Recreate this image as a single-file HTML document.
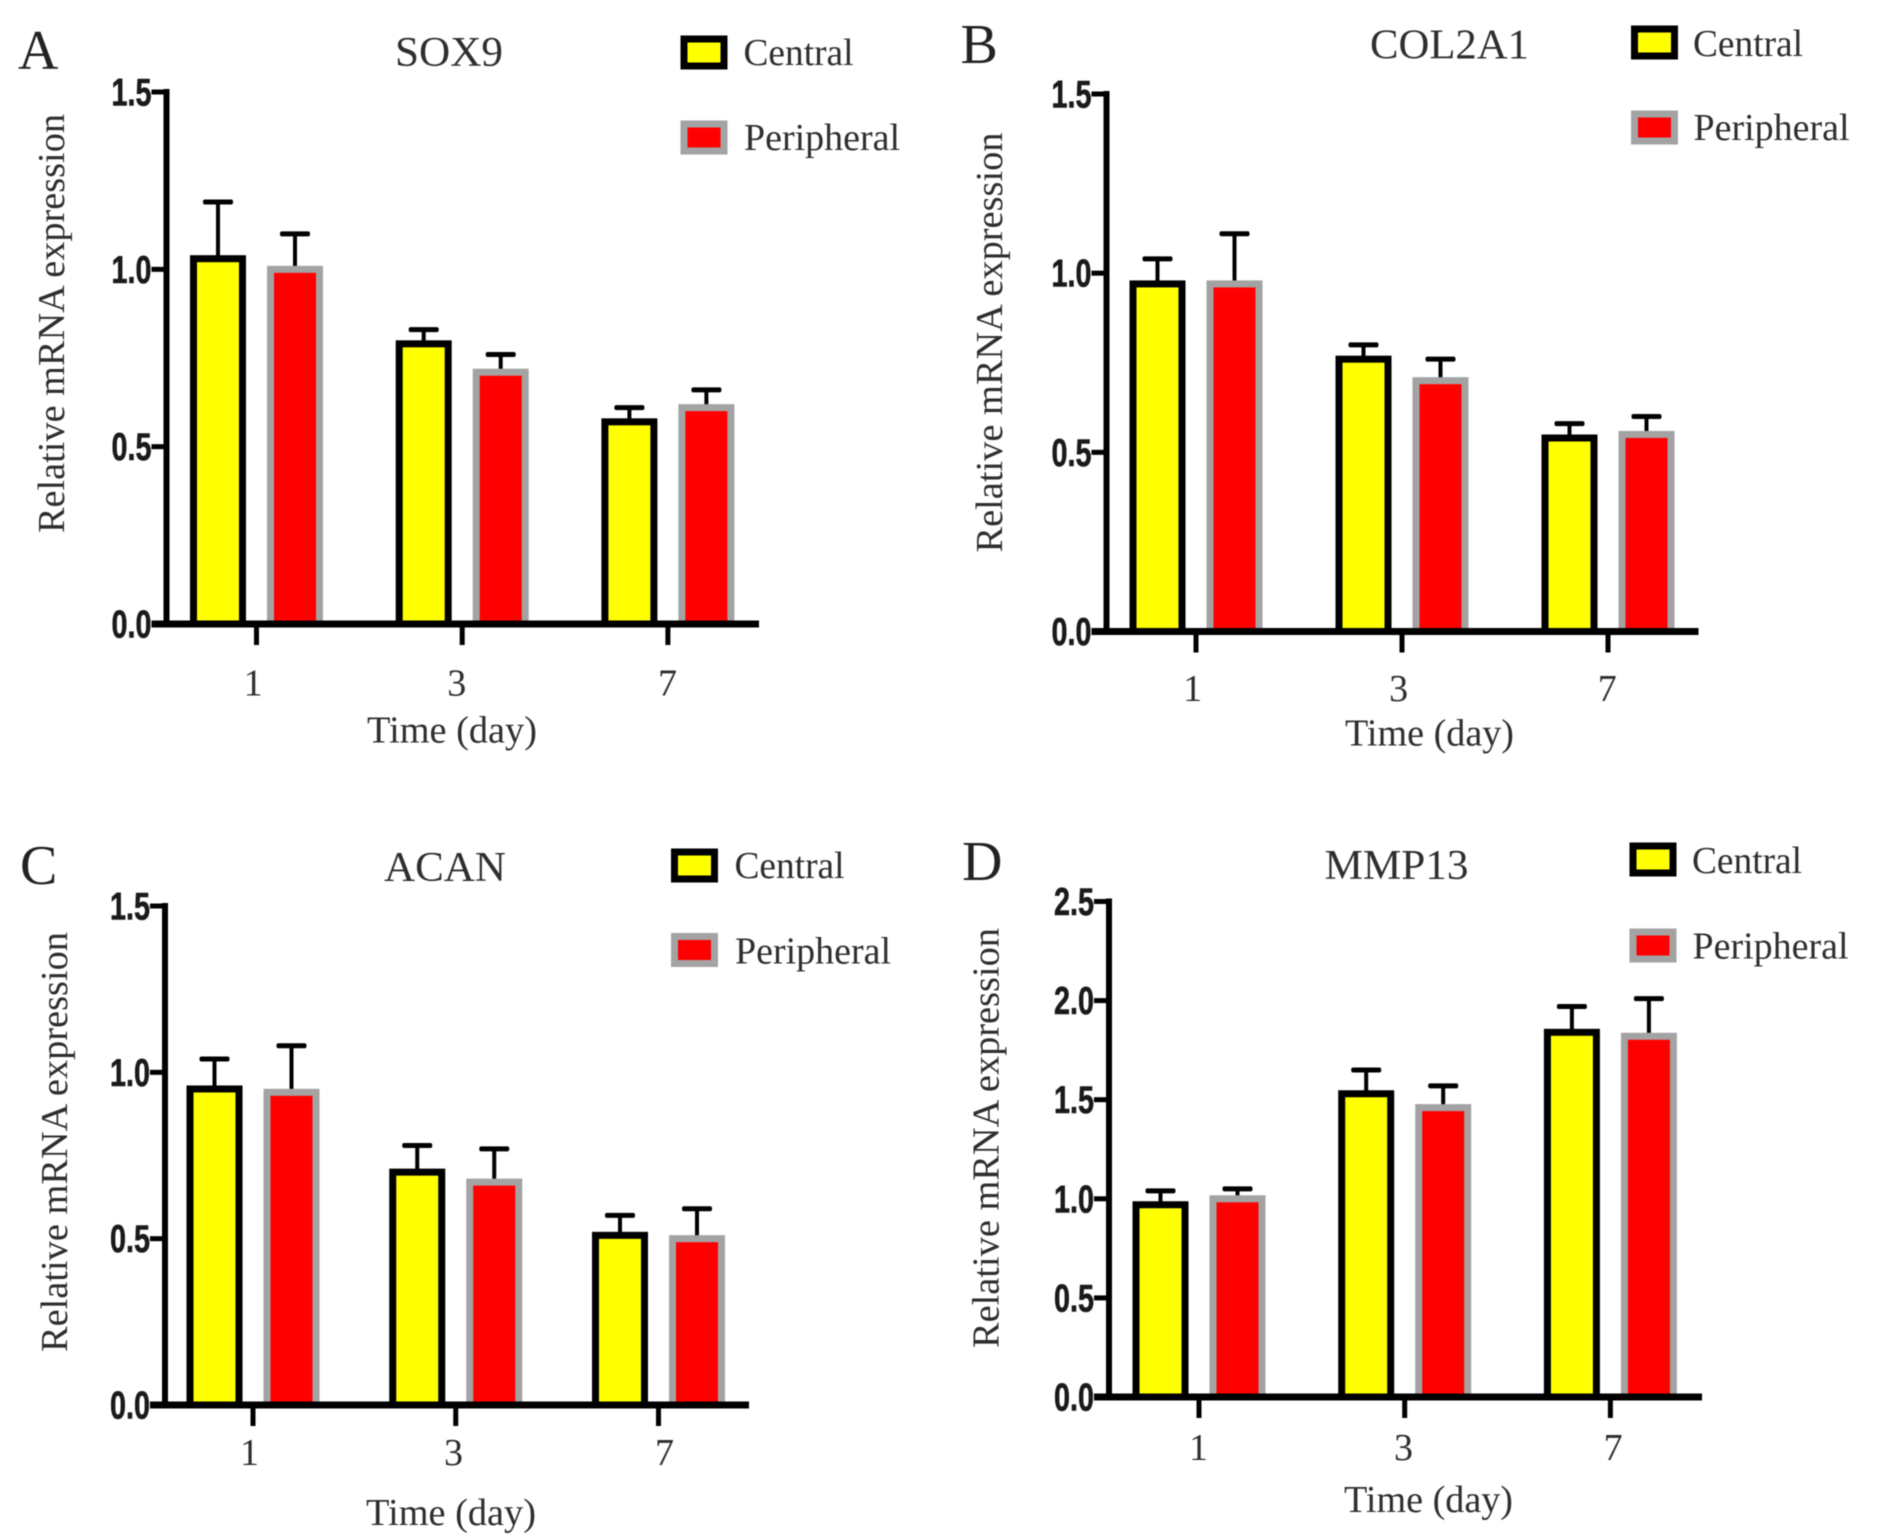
<!DOCTYPE html>
<html lang="en">
<head>
<meta charset="utf-8">
<title>Relative mRNA expression panels</title>
<style>
html,body{margin:0;padding:0;background:#fff;width:1890px;height:1540px;overflow:hidden}
svg{display:block;filter:blur(.5px)}
.lab{font-family:"Liberation Serif",serif;fill:#2e2e2e;font-size:38px}
.panel{font-family:"Liberation Serif",serif;fill:#222;font-size:56px}
.tick{font-family:"Liberation Sans",sans-serif;font-weight:bold;fill:#1a1a1a;stroke:#1a1a1a;stroke-width:.6px;font-size:39px}
</style>
</head>
<body>
<svg id="figure" xmlns="http://www.w3.org/2000/svg" width="1890" height="1540" viewBox="0 0 1890 1540">
<rect width="1890" height="1540" fill="#fff"/>

<g id="panel-a">
<text class="panel" x="18" y="69">A</text>
<text class="lab" x="395" y="66" style="font-size:42px" textLength="108" lengthAdjust="spacingAndGlyphs">SOX9</text>
<text class="lab" transform="translate(64,533) rotate(-90)" textLength="419" lengthAdjust="spacingAndGlyphs">Relative mRNA expression</text>
<text class="lab" x="367" y="742.5" textLength="170" lengthAdjust="spacingAndGlyphs">Time (day)</text>
<rect x="684" y="39" width="40" height="27" fill="#ff0" stroke="#000" stroke-width="7"/>
<text class="lab" x="743.5" y="65" textLength="110" lengthAdjust="spacingAndGlyphs">Central</text>
<rect x="684" y="124" width="40" height="27" fill="#f00" stroke="#a3a3a3" stroke-width="7"/>
<text class="lab" x="744" y="150" textLength="156" lengthAdjust="spacingAndGlyphs">Peripheral</text>
</g>

<g id="panel-b">
<text class="panel" x="960.5" y="63">B</text>
<text class="lab" x="1370" y="58.5" style="font-size:42px" textLength="159" lengthAdjust="spacingAndGlyphs">COL2A1</text>
<text class="lab" transform="translate(1002,552.5) rotate(-90)" textLength="420" lengthAdjust="spacingAndGlyphs">Relative mRNA expression</text>
<text class="lab" x="1345" y="745.5" textLength="169" lengthAdjust="spacingAndGlyphs">Time (day)</text>
<rect x="1634.5" y="29" width="40" height="27" fill="#ff0" stroke="#000" stroke-width="7"/>
<text class="lab" x="1693" y="56" textLength="110" lengthAdjust="spacingAndGlyphs">Central</text>
<rect x="1634.5" y="114" width="40" height="27" fill="#f00" stroke="#a3a3a3" stroke-width="7"/>
<text class="lab" x="1693.5" y="140" textLength="156" lengthAdjust="spacingAndGlyphs">Peripheral</text>
</g>

<g id="panel-c">
<text class="panel" x="20" y="884">C</text>
<text class="lab" x="384" y="881" style="font-size:42px" textLength="122" lengthAdjust="spacingAndGlyphs">ACAN</text>
<text class="lab" transform="translate(67,1352) rotate(-90)" textLength="420" lengthAdjust="spacingAndGlyphs">Relative mRNA expression</text>
<text class="lab" x="366" y="1525" textLength="170" lengthAdjust="spacingAndGlyphs">Time (day)</text>
<rect x="674.5" y="852" width="40" height="27" fill="#ff0" stroke="#000" stroke-width="7"/>
<text class="lab" x="734.5" y="878" textLength="110" lengthAdjust="spacingAndGlyphs">Central</text>
<rect x="674.5" y="936.5" width="40" height="27" fill="#f00" stroke="#a3a3a3" stroke-width="7"/>
<text class="lab" x="735" y="963.5" textLength="156" lengthAdjust="spacingAndGlyphs">Peripheral</text>
</g>

<g id="panel-d">
<text class="panel" x="962" y="880">D</text>
<text class="lab" x="1324.5" y="879" style="font-size:42px" textLength="144" lengthAdjust="spacingAndGlyphs">MMP13</text>
<text class="lab" transform="translate(998.5,1348) rotate(-90)" textLength="420" lengthAdjust="spacingAndGlyphs">Relative mRNA expression</text>
<text class="lab" x="1344" y="1512" textLength="169" lengthAdjust="spacingAndGlyphs">Time (day)</text>
<rect x="1633" y="846" width="40" height="27" fill="#ff0" stroke="#000" stroke-width="7"/>
<text class="lab" x="1692" y="873" textLength="110" lengthAdjust="spacingAndGlyphs">Central</text>
<rect x="1633" y="932" width="40" height="27" fill="#f00" stroke="#a3a3a3" stroke-width="7"/>
<text class="lab" x="1692.5" y="958.5" textLength="156" lengthAdjust="spacingAndGlyphs">Peripheral</text>
</g>
</svg>

<script>
const categories = ['1', '3', '7'];
const ticksLow = ['0.0', '0.5', '1.0', '1.5'];
const ticksHigh = ['0.0', '0.5', '1.0', '1.5', '2.0', '2.5'];

const sox9Central = [1.03, 0.79, 0.57];
const sox9CentralUpper = [1.19, 0.83, 0.61];
const sox9Peripheral = [1.00, 0.71, 0.61];
const sox9PeripheralUpper = [1.10, 0.76, 0.66];

const col2a1Central = [0.97, 0.76, 0.54];
const col2a1CentralUpper = [1.04, 0.80, 0.58];
const col2a1Peripheral = [0.97, 0.70, 0.55];
const col2a1PeripheralUpper = [1.11, 0.76, 0.60];

const acanCentral = [0.95, 0.70, 0.51];
const acanCentralUpper = [1.04, 0.78, 0.57];
const acanPeripheral = [0.94, 0.67, 0.50];
const acanPeripheralUpper = [1.08, 0.77, 0.59];

const mmp13Central = [0.97, 1.53, 1.84];
const mmp13CentralUpper = [1.04, 1.65, 1.97];
const mmp13Peripheral = [1.00, 1.46, 1.82];
const mmp13PeripheralUpper = [1.05, 1.57, 2.01];

const NS = 'http://www.w3.org/2000/svg';

function make(parent, tag, attrs, text) {
  const el = document.createElementNS(NS, tag);
  for (const k in attrs) el.setAttribute(k, attrs[k]);
  if (text !== undefined) el.textContent = text;
  parent.appendChild(el);
  return el;
}

function drawPanel(p) {
  const root = document.getElementById(p.id);
  const yMax = parseFloat(p.ticks[p.ticks.length - 1]);
  const yScale = v => p.base - (v / yMax) * (p.base - p.top);
  const groupX = i => p.x0 + i * p.step;
  const barX = (i, s) => groupX(i) + s * p.seriesGap;
  const tickX = i => groupX(i) + p.seriesGap / 2;
  const labelX = i => tickX(i) + p.labelShift[i];

  p.series.forEach((s, si) => {
    categories.forEach((c, i) => {
      const cx = barX(i, si);
      const stem = make(root, 'rect', {x: cx - 2, y: yScale(s.upper[i]), width: 4, height: yScale(s.values[i]) - yScale(s.upper[i]), fill: '#000'});
      
      
      const cap = make(root, 'rect', {x: cx - 15, y: yScale(s.upper[i]) - 2.5, width: 30, height: 5, rx: 2, fill: '#000'});
      
      
      const bar = make(root, 'rect', {x: cx - 24.5, y: yScale(s.values[i]), width: 49, height: p.base - yScale(s.values[i]), fill: s.fill, stroke: s.stroke, 'stroke-width': 7});
      
      
    });
  });

  const yAxis = make(root, 'rect', {x: p.axisX - 3, y: p.top - 3, width: 6, height: p.base - p.top + 3, fill: '#000'});
  
  
  const xAxis = make(root, 'rect', {x: p.axisX - 15, y: p.base - 3.5, width: p.axisEnd - p.axisX + 15, height: 7, fill: '#000'});
  
  

  p.ticks.forEach(t => {
    const y = yScale(parseFloat(t));
    const mark = make(root, 'rect', {x: p.axisX - 15, y: y - 2.5, width: 15, height: 5, fill: '#000'});
    
    
    const label = make(root, 'text', {class: 'tick', x: p.axisX - 55, y: y + 13.5, textLength: 40, lengthAdjust: 'spacingAndGlyphs'}, t);
    
    
  });

  categories.forEach((c, i) => {
    const mark = make(root, 'rect', {x: tickX(i) - 2.5, y: p.base, width: 5, height: 21, fill: '#000'});
    
    
    const label = make(root, 'text', {class: 'lab', x: labelX(i), y: p.labelY, 'text-anchor': 'middle'}, c);
    
    
  });
}

drawPanel({
  id: 'panel-a', axisX: 166.5, axisEnd: 759, top: 92, base: 624, x0: 218, step: 205.7, seriesGap: 77,
  ticks: ticksLow, labelY: 695.5, labelShift: [-3.4, -5.4, -0.4],
  series: [
    {name: 'central', values: sox9Central, upper: sox9CentralUpper, fill: '#ff0', stroke: '#000'},
    {name: 'peripheral', values: sox9Peripheral, upper: sox9PeripheralUpper, fill: '#f00', stroke: '#a3a3a3'}
  ]
});
drawPanel({
  id: 'panel-b', axisX: 1106.5, axisEnd: 1698.5, top: 94, base: 631.5, x0: 1157.5, step: 206, seriesGap: 77,
  ticks: ticksLow, labelY: 701, labelShift: [-3.4, -3.4, -0.8],
  series: [
    {name: 'central', values: col2a1Central, upper: col2a1CentralUpper, fill: '#ff0', stroke: '#000'},
    {name: 'peripheral', values: col2a1Peripheral, upper: col2a1PeripheralUpper, fill: '#f00', stroke: '#a3a3a3'}
  ]
});
drawPanel({
  id: 'panel-c', axisX: 165, axisEnd: 749, top: 906, base: 1405, x0: 214.5, step: 202.75, seriesGap: 77,
  ticks: ticksLow, labelY: 1465, labelShift: [-3.5, -2.25, 6],
  series: [
    {name: 'central', values: acanCentral, upper: acanCentralUpper, fill: '#ff0', stroke: '#000'},
    {name: 'peripheral', values: acanPeripheral, upper: acanPeripheralUpper, fill: '#f00', stroke: '#a3a3a3'}
  ]
});
drawPanel({
  id: 'panel-d', axisX: 1109, axisEnd: 1702, top: 901.5, base: 1397, x0: 1160.5, step: 205.7, seriesGap: 77,
  ticks: ticksHigh, labelY: 1460, labelShift: [-0.5, -1.2, 2.7],
  series: [
    {name: 'central', values: mmp13Central, upper: mmp13CentralUpper, fill: '#ff0', stroke: '#000'},
    {name: 'peripheral', values: mmp13Peripheral, upper: mmp13PeripheralUpper, fill: '#f00', stroke: '#a3a3a3'}
  ]
});
</script>
</body>
</html>
